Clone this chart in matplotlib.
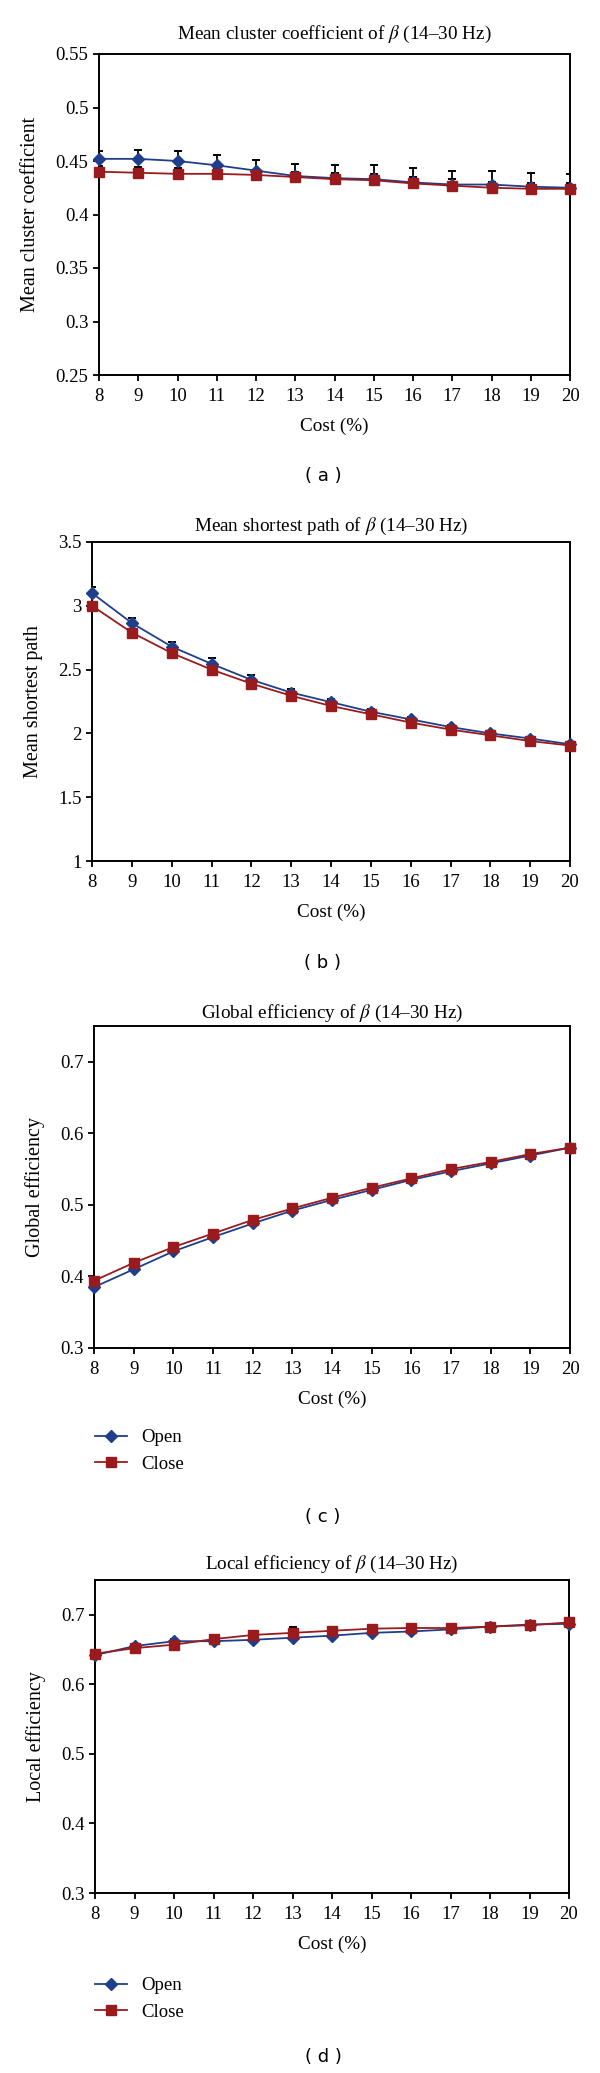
import matplotlib
matplotlib.use('Agg')
import matplotlib.pyplot as plt
import numpy as np

plt.rcParams['font.family'] = ['Liberation Serif', 'DejaVu Serif']
plt.rcParams['mathtext.fontset'] = 'stix'

# eje x: costo (%)
cost = [8, 9, 10, 11, 12, 13, 14, 15, 16, 17, 18, 19, 20]

# (a) coeficiente de agrupamiento medio
clus_open = [0.452, 0.452, 0.450, 0.446, 0.441, 0.436, 0.434, 0.433, 0.430, 0.428, 0.428, 0.426, 0.425]
clus_close = [0.440, 0.439, 0.438, 0.438, 0.437, 0.435, 0.433, 0.432, 0.429, 0.427, 0.425, 0.424, 0.424]
clus_open_err = [0.007, 0.008, 0.009, 0.010, 0.010, 0.011, 0.012, 0.013, 0.013, 0.013, 0.013, 0.013, 0.013]
clus_close_err = [0.005, 0.005, 0.005, 0.005, 0.005, 0.005, 0.006, 0.006, 0.006, 0.006, 0.005, 0.005, 0.005]

# (b) camino más corto medio
path_open = [3.10, 2.865, 2.68, 2.545, 2.42, 2.32, 2.245, 2.17, 2.11, 2.05, 2.00, 1.96, 1.915]
path_close = [3.00, 2.79, 2.63, 2.50, 2.39, 2.295, 2.215, 2.15, 2.085, 2.03, 1.985, 1.94, 1.905]
path_open_err = [0.045, 0.037, 0.040, 0.045, 0.034, 0.030, 0.025, 0.022, 0.020, 0.018, 0.016, 0.015, 0.012]
path_close_err = [0.01, 0.01, 0.01, 0.01, 0.01, 0.01, 0.01, 0.01, 0.01, 0.01, 0.01, 0.01, 0.01]

# (c) eficiencia global
glob_open = [0.385, 0.410, 0.435, 0.455, 0.474, 0.492, 0.507, 0.521, 0.535, 0.547, 0.558, 0.569, 0.580]
glob_close = [0.394, 0.419, 0.441, 0.460, 0.479, 0.495, 0.510, 0.524, 0.537, 0.550, 0.560, 0.571, 0.580]
glob_open_err = [0.003, 0.003, 0.003, 0.003, 0.003, 0.003, 0.003, 0.003, 0.003, 0.003, 0.003, 0.004, 0.003]
glob_close_err = [0.003, 0.003, 0.003, 0.003, 0.003, 0.003, 0.003, 0.003, 0.003, 0.003, 0.003, 0.003, 0.003]

# (d) eficiencia local
loc_open = [0.642, 0.655, 0.662, 0.662, 0.664, 0.667, 0.670, 0.674, 0.676, 0.679, 0.683, 0.686, 0.687]
loc_close = [0.644, 0.652, 0.657, 0.665, 0.671, 0.674, 0.677, 0.680, 0.681, 0.681, 0.683, 0.685, 0.689]
loc_open_err = [0.003, 0.003, 0.003, 0.003, 0.003, 0.003, 0.003, 0.003, 0.003, 0.003, 0.003, 0.003, 0.003]
loc_close_err = [0.003, 0.003, 0.003, 0.003, 0.004, 0.008, 0.003, 0.003, 0.003, 0.003, 0.003, 0.003, 0.003]

azul = '#1f3e8c'
rojo = '#9a1b1e'
W, H = 600, 2073

fig = plt.figure(figsize=(W / 100, H / 100), dpi=100)

def caja(L, R, T, B):
    return [L / W, 1 - B / H, (R - L) / W, (B - T) / H]

titulo_letra = ['a', 'b', 'c', 'd']

def panel(pos, titulo, ylab, yo, yc, eo, ec, ylim, yticks, ytl, letra, ley_y=None, tpad=9):
    ax = fig.add_axes(caja(*pos))
    ax.errorbar(cost, yc, yerr=[np.zeros(len(ec)), ec], fmt='none', ecolor='black',
                elinewidth=1.3, capsize=3.2, capthick=1.4, zorder=2)
    ax.errorbar(cost, yo, yerr=[np.zeros(len(eo)), eo], fmt='none', ecolor='black',
                elinewidth=1.3, capsize=3.2, capthick=1.4, zorder=2)
    ax.plot(cost, yo, color=azul, lw=1.3, marker='D', ms=6.2, zorder=3, label='Open', clip_on=False)
    ax.plot(cost, yc, color=rojo, lw=1.3, marker='s', ms=7, zorder=4, label='Close', clip_on=False)
    ax.set_xlim(8, 20)
    ax.set_ylim(*ylim)
    ax.set_xticks(cost)
    ax.set_yticks(yticks)
    ax.set_yticklabels(ytl)
    ax.tick_params(direction='out', length=4.5, width=1.3, labelsize=13.5, top=False, right=False)
    ax.tick_params(axis='x', pad=5)
    ax.tick_params(axis='y', pad=3)
    for s in ax.spines.values():
        s.set_linewidth(1.4)
    ax.set_title(titulo + r' of $\beta$ (14–30 Hz)', fontsize=13.8, pad=tpad)
    ax.set_xlabel('Cost (%)', fontsize=13.8, labelpad=9)
    ax.set_ylabel(ylab, fontsize=14.5, labelpad=11)
    fig.text(323 / W, 1 - letra / H, '( %s )' % titulo_letra.pop(0), fontsize=13,
             family='DejaVu Sans', ha='center', va='center')
    if ley_y is not None:
        ax.legend(loc='upper left', bbox_to_anchor=(95 / W, 1 - ley_y / H),
                  bbox_transform=fig.transFigure, frameon=False, fontsize=13.5,
                  borderpad=0, borderaxespad=0, handlelength=1.7, handletextpad=0.75,
                  labelspacing=0.5)
    return ax

panel((99, 570, 54, 375), 'Mean cluster coefficient', 'Mean cluster coefficient',
      clus_open, clus_close, clus_open_err, clus_close_err, (0.25, 0.55),
      [0.25, 0.3, 0.35, 0.4, 0.45, 0.5, 0.55], ['0.25', '0.3', '0.35', '0.4', '0.45', '0.5', '0.55'], 476,
      tpad=11)
panel((92, 570, 542, 861), 'Mean shortest path', 'Mean shortest path',
      path_open, path_close, path_open_err, path_close_err, (1, 3.5),
      [1, 1.5, 2, 2.5, 3, 3.5], ['1', '1.5', '2', '2.5', '3', '3.5'], 963, tpad=8)
panel((94, 570, 1026, 1348), 'Global efficiency', 'Global efficiency',
      glob_open, glob_close, glob_open_err, glob_close_err, (0.3, 0.75),
      [0.3, 0.4, 0.5, 0.6, 0.7], ['0.3', '0.4', '0.5', '0.6', '0.7'], 1517, ley_y=1429, tpad=6)
panel((95, 569, 1580, 1893), 'Local efficiency', 'Local efficiency',
      loc_open, loc_close, loc_open_err, loc_close_err, (0.3, 0.75),
      [0.3, 0.4, 0.5, 0.6, 0.7], ['0.3', '0.4', '0.5', '0.6', '0.7'], 2057, ley_y=1977, tpad=8)

plt.savefig('out.png', dpi=100)
